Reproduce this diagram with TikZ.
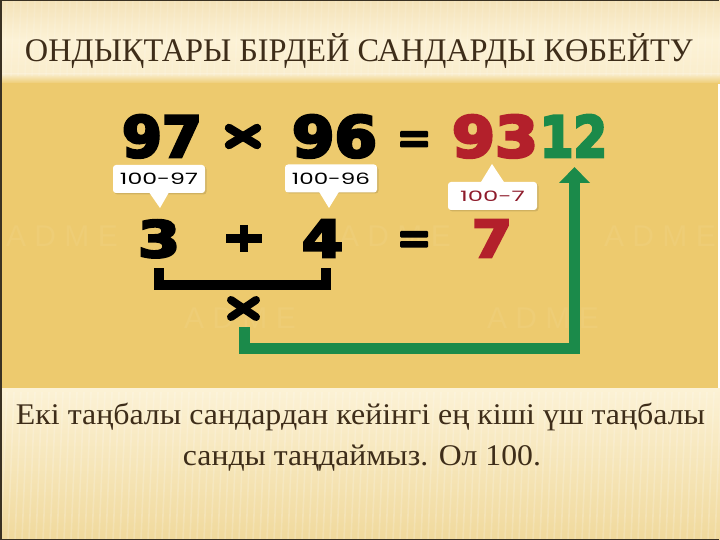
\documentclass[tikz,border=0pt]{standalone}
\usepackage{fontspec}
\usepackage{graphicx}
\setmainfont{Liberation Serif}
\newfontfamily\heavyfont{DejaVu Sans Bold}[FakeBold=5]
\newfontfamily\calfont{Poppins}
\newfontfamily\wmfont{Liberation Sans}
\usetikzlibrary{arrows.meta,calc}
\definecolor{panelyellow}{HTML}{EDCA6E}
\definecolor{creamA}{HTML}{F4E2B8}
\definecolor{creamB}{HTML}{FCF2D6}
\definecolor{creamC}{HTML}{F0D99C}
\definecolor{titlebrown}{HTML}{3E2D19}
\definecolor{numred}{HTML}{B3202B}
\definecolor{numgreen}{HTML}{1B8A4A}
\definecolor{calred}{HTML}{8E1B2B}
\definecolor{framedark}{HTML}{3A3122}
\newcommand\Bnum[3]{\resizebox{#1pt}{#2pt}{#3}}
\newcommand\Wfit[2]{\resizebox{#1pt}{\height}{#2}}
\tikzset{
  num/.style={anchor=base, inner sep=0pt, font=\heavyfont},
  opline/.style={line width=8.5pt, black},
  calbox/.style={fill=white, rounded corners=3pt, inner sep=0pt, minimum height=28pt},
  calshadow/.style={fill=black, opacity=0.12, rounded corners=3pt},
  greenline/.style={draw=numgreen, line width=11pt, line join=miter,
                    -{Triangle[width=30pt,length=16pt]}},
  bracketline/.style={line width=10.5pt, black, line join=miter},
  wm/.style={font=\wmfont\fontsize{30}{30}\selectfont, text=white, text opacity=0.06, inner sep=0pt},
  titletext/.style={font=\fontsize{33}{33}\selectfont, text=titlebrown, inner sep=0pt, anchor=base},
}
\begin{document}
\begin{tikzpicture}[x=1pt,y=-1pt]
\useasboundingbox (0,0) rectangle (720,540);
% background
\shade[top color=creamA, bottom color=creamB] (0,0) rectangle (720,40);
\shade[top color=creamB, bottom color=creamB!70!creamA] (0,40) rectangle (720,74);
\shade[top color=creamB!70!creamA, bottom color=panelyellow] (0,74) rectangle (720,84);
\fill[panelyellow] (2,83) rectangle (718,388);
\shade[top color=creamB, bottom color=creamC] (0,388) rectangle (720,540);
\foreach \i in {0,7,...,730} {
  \draw[white, opacity=0.18, line width=1.6pt] (\i,392) -- (\i-6,540);
  \draw[white, opacity=0.12, line width=1.6pt] (\i,0) -- (\i-3,76);
}
\draw[framedark, line width=1.5pt] (719,0.75) -- (0.75,0.75) -- (0.75,539.25) -- (719,539.25);

% title
\node[titletext] (title) at (359,62) {\Wfit{668}{ОНДЫҚТАРЫ БІРДЕЙ САНДАРДЫ КӨБЕЙТУ}};

% watermarks
\node[wm] (w1) at (62,236) {A D M E};
\node[wm] (w2) at (395,236) {A D M E};
\node[wm] (w3) at (660,236) {A D M E};
\node[wm] (w4) at (240,318) {A D M E};
\node[wm] (w5) at (543,318) {A D M E};

% first row
\node[num] (n97) at (162,157) {\Bnum{80}{42}{97}};
\node[num] (n96) at (334.5,157) {\Bnum{85}{42}{96}};
\node[num, text=numred] (n93) at (495,157) {\Bnum{86}{42}{93}};
\node[num, text=numgreen] (n12) at (573.5,157) {\Bnum{67}{42}{12}};
\draw[opline, line cap=round] (229,128) -- (257,145);
\draw[opline, line cap=round] (229,145) -- (257,128);
\fill[black, rounded corners=1pt] (400,131) rectangle (428,137.5);
\fill[black, rounded corners=1pt] (400,141) rectangle (428,147.5);

% second row
\node[num] (n3) at (159,257) {\Bnum{42}{37}{3}};
\node[num] (n4) at (322.5,257) {\Bnum{41}{37}{4}};
\node[num, text=numred] (n7) at (492,257) {\Bnum{40}{37}{7}};
\draw[opline] (226,238.5) -- (262,238.5);
\draw[opline] (244,225) -- (244,252);
\fill[black, rounded corners=1pt] (400,231) rectangle (428,237.5);
\fill[black, rounded corners=1pt] (400,241) rectangle (428,247.5);

% callouts
\fill[calshadow] (114.5,166.5) rectangle (206.5,194.5);
\fill[calshadow] (286.5,166.5) rectangle (378.5,193.5);
\fill[calshadow] (449.5,183.5) rectangle (538.5,211.5);
\node[calbox, minimum width=92pt] (c1) at (159,179) {\calfont\Bnum{78}{11.5}{100-97}};
\node[calbox, minimum width=92pt] (c2) at (331,178.5) {\calfont\Bnum{78}{11.5}{100-96}};
\node[calbox, minimum width=89pt, text=calred] (c3) at (492.5,196) {\calfont\Bnum{65}{10.5}{100-7}};
\coordinate (t1) at (160,208);
\coordinate (t2) at (329,208);
\coordinate (t3) at (492,164);
\fill[white] ($(c1.south)+(-10,-1)$) -- (t1) -- ($(c1.south)+(10,-1)$) -- cycle;
\fill[white] ($(c2.south)+(-12,-1)$) -- (t2) -- ($(c2.south)+(8,-1)$) -- cycle;
\fill[white] ($(c3.north)+(-12,1)$) -- (t3) -- ($(c3.north)+(12,1)$) -- cycle;

% bracket and lower times sign
\coordinate (bl) at (159,268);
\coordinate (br) at (326,268);
\draw[bracketline] (bl) |- (br |- 0,285) -- (br);
\draw[opline, line width=8pt, line cap=round] (231,300) -- (256,317);
\draw[opline, line width=8pt, line cap=round] (231,317) -- (256,300);

% green connector
\coordinate (gs) at (244,327);
\coordinate (gb) at (574.5,348);
\coordinate (ge) at (574.5,167);
\draw[greenline] (gs) |- (gb) -- (ge);

% bottom text
\node[titletext, font=\fontsize{30}{30}\selectfont] (l1) at (360.5,424) {\Wfit{689}{Екі таңбалы сандардан кейінгі ең кіші үш таңбалы}};
\node[titletext, font=\fontsize{30}{30}\selectfont] (l2) at (362,465) {\Wfit{358}{санды таңдаймыз. Ол 100.}};
\end{tikzpicture}
\end{document}
